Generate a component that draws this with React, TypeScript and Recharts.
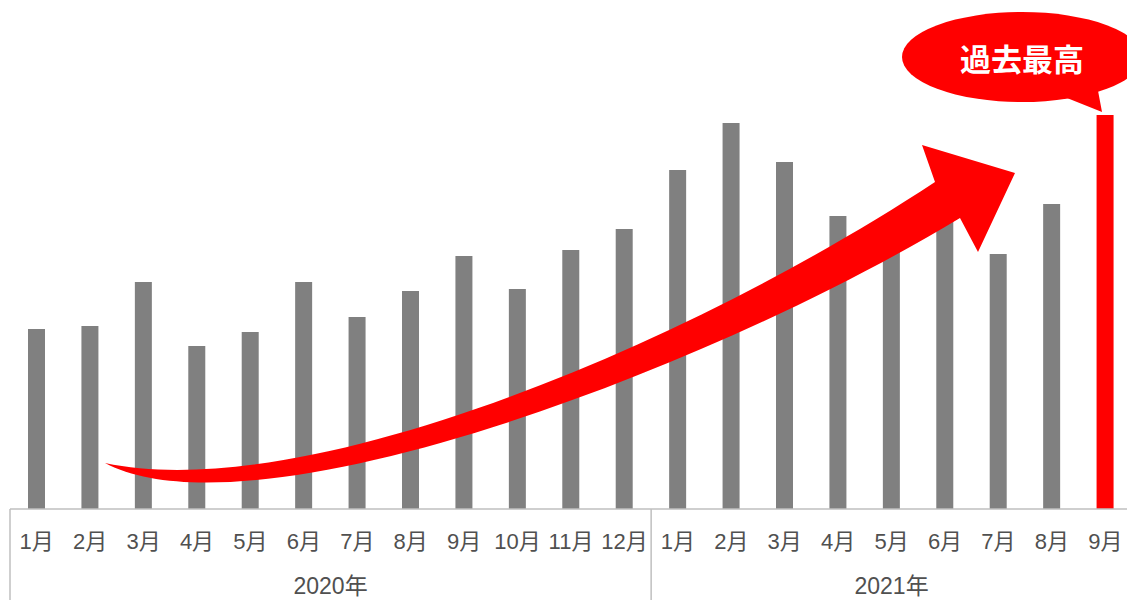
import { BarChart, Bar, XAxis, YAxis, Cell } from 'recharts'

// ─── Data ────────────────────────────────────────────────────────────────────
const YEARS = ['2020年', '2021年']
const MONTHS_2020 = ['1月', '2月', '3月', '4月', '5月', '6月', '7月', '8月', '9月', '10月', '11月', '12月']
const MONTHS_2021 = ['1月', '2月', '3月', '4月', '5月', '6月', '7月', '8月', '9月']
const VALUES_2020 = [180, 183, 227, 163, 177, 227, 192, 218, 253, 220, 259, 280]
const VALUES_2021 = [339, 386, 347, 293, 279, 334, 255, 305, 394]

const data = [
  ...MONTHS_2020.map((m, i) => ({ key: `2020-${i}`, month: m, group: 0, value: VALUES_2020[i] })),
  ...MONTHS_2021.map((m, i) => ({ key: `2021-${i}`, month: m, group: 1, value: VALUES_2021[i] })),
]
const GROUP_SIZES = [MONTHS_2020.length, MONTHS_2021.length]

// ─── Layout / style ──────────────────────────────────────────────────────────
const W = 1133
const H = 600
const MARGIN = { top: 109, right: 1, left: 10, bottom: 0 }
const BAND = (W - MARGIN.left - MARGIN.right) / data.length
const PLOT_BOTTOM = 509
const FONT = "'Liberation Sans', 'Noto Sans CJK JP', sans-serif"
const LABEL = '#505050'
const AXIS = '#bfbfbf'
const GRAY = '#808080'
const RED = '#ff0000'

function MonthTick({ x, index }: any) {
  return (
    <text x={x} y={549} textAnchor="middle" fontSize={22} fill={LABEL} fontFamily={FONT}>
      {data[index]?.month}
    </text>
  )
}

function YearTick({ x, index }: any) {
  const d = data[index]
  if (!d) return null
  const first = index === 0 || data[index - 1].group !== d.group
  if (!first) return null
  const left = x - BAND / 2
  const mid = left + (GROUP_SIZES[d.group] * BAND) / 2
  return (
    <g>
      <line x1={left} x2={left} y1={PLOT_BOTTOM} y2={H} stroke={AXIS} strokeWidth={1.5} />
      <text x={mid} y={594} textAnchor="middle" fontSize={23} fill={LABEL} fontFamily={FONT}>
        {YEARS[d.group]}
      </text>
    </g>
  )
}

// curved "growth" arrow + speech bubble, drawn on top of the chart
function Overlay() {
  const arrow =
    'M 105 463 C 300 505 680 350 935 182' +
    ' L 922 145 L 1015 173 L 978 252 L 960 218' +
    ' C 700 375 250 540 105 463 Z'
  return (
    <svg width={1127} height={H} style={{ position: 'absolute', left: 0, top: 0, pointerEvents: 'none' }}>
      <path d={arrow} fill={RED} />
      <ellipse cx={1022} cy={57} rx={120} ry={45} fill={RED} />
      <polygon points="1052,92 1102,112 1096,80" fill={RED} />
      <text x={1022} y={71} textAnchor="middle" fontSize={31} fontWeight={700} fill="#fff"
        fontFamily="'Noto Sans CJK JP', sans-serif">
        過去最高
      </text>
    </svg>
  )
}

export default function App() {
  return (
    <div style={{ position: 'fixed', left: 0, top: 0, width: 1127, height: H, overflow: 'hidden', background: '#fff' }}>
      <BarChart width={W} height={H} data={data} margin={MARGIN} barCategoryGap={0}>
        <XAxis
          xAxisId="m"
          dataKey="key"
          height={50}
          interval={0}
          tickLine={false}
          axisLine={{ stroke: AXIS, strokeWidth: 1.5 }}
          tick={<MonthTick />}
        />
        <XAxis
          xAxisId="y"
          dataKey="key"
          height={41}
          interval={0}
          tickLine={false}
          axisLine={false}
          tick={<YearTick />}
        />
        <YAxis hide domain={[0, 400]} />
        <Bar xAxisId="m" dataKey="value" barSize={17} isAnimationActive={false}>
          {data.map((d, i) => (
            <Cell key={d.key} fill={i === data.length - 1 ? RED : GRAY} />
          ))}
        </Bar>
      </BarChart>
      <Overlay />
    </div>
  )
}
